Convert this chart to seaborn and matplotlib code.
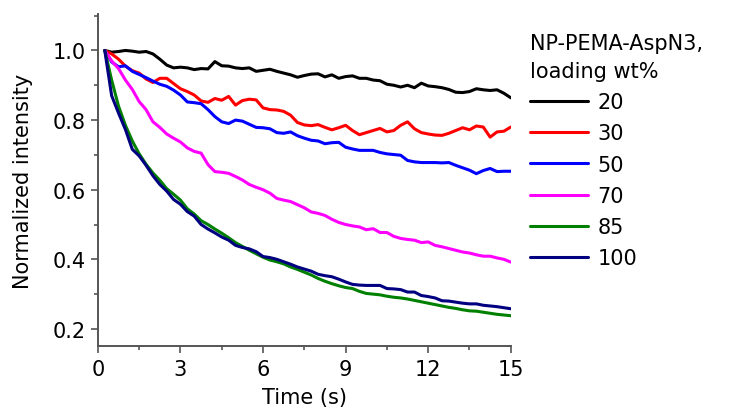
import numpy as np
import pandas as pd
import matplotlib
matplotlib.use("Agg")
import matplotlib.pyplot as plt
from matplotlib.ticker import MultipleLocator
import seaborn as sns

time_s = [0.25, 0.5, 0.75, 1.0, 1.25, 1.5, 1.75, 2.0, 2.25, 2.5, 2.75, 3.0,
          3.25, 3.5, 3.75, 4.0, 4.25, 4.5, 4.75, 5.0, 5.25, 5.5, 5.75, 6.0,
          6.25, 6.5, 6.75, 7.0, 7.25, 7.5, 7.75, 8.0, 8.25, 8.5, 8.75, 9.0,
          9.25, 9.5, 9.75, 10.0, 10.25, 10.5, 10.75, 11.0, 11.25, 11.5, 11.75, 12.0,
          12.25, 12.5, 12.75, 13.0, 13.25, 13.5, 13.75, 14.0, 14.25, 14.5, 14.75, 15.0]

load_20 = [1.0, 0.995, 0.997, 1.0, 0.998, 0.995, 0.997, 0.99, 0.975, 0.958, 0.95, 0.952,
           0.95, 0.945, 0.948, 0.947, 0.968, 0.956, 0.955, 0.95, 0.948, 0.95, 0.94, 0.943,
           0.946, 0.94, 0.935, 0.93, 0.923, 0.928, 0.932, 0.933, 0.924, 0.93, 0.92, 0.925,
           0.927, 0.92, 0.92, 0.915, 0.913, 0.903, 0.9, 0.895, 0.9, 0.893, 0.906, 0.898,
           0.896, 0.893, 0.888, 0.88, 0.879, 0.882, 0.89, 0.887, 0.885, 0.887, 0.877, 0.864]
load_30 = [1.0, 0.99, 0.975, 0.955, 0.942, 0.935, 0.918, 0.908, 0.92, 0.92, 0.905, 0.89,
           0.882, 0.872, 0.855, 0.851, 0.862, 0.857, 0.868, 0.843, 0.856, 0.86, 0.858, 0.835,
           0.83, 0.829, 0.825, 0.814, 0.793, 0.786, 0.784, 0.787, 0.779, 0.772, 0.778, 0.785,
           0.77, 0.758, 0.764, 0.77, 0.776, 0.766, 0.77, 0.785, 0.795, 0.775, 0.764, 0.76,
           0.757, 0.756, 0.762, 0.77, 0.778, 0.772, 0.783, 0.78, 0.751, 0.766, 0.768, 0.78]
load_50 = [1.0, 0.967, 0.953, 0.956, 0.94, 0.931, 0.922, 0.912, 0.903, 0.897, 0.886, 0.872,
           0.852, 0.85, 0.847, 0.83, 0.81, 0.795, 0.79, 0.8, 0.797, 0.788, 0.779, 0.778,
           0.775, 0.764, 0.762, 0.766, 0.755, 0.748, 0.742, 0.74, 0.732, 0.735, 0.736, 0.722,
           0.717, 0.713, 0.713, 0.713, 0.707, 0.703, 0.701, 0.699, 0.684, 0.68, 0.678, 0.678,
           0.678, 0.677, 0.678, 0.67, 0.663, 0.656, 0.646, 0.655, 0.661, 0.652, 0.653, 0.653]
load_70 = [1.0, 0.97, 0.948, 0.915, 0.888, 0.853, 0.83, 0.795, 0.779, 0.76, 0.748, 0.737,
           0.72, 0.71, 0.705, 0.672, 0.652, 0.65, 0.647, 0.638, 0.628, 0.615, 0.607, 0.6,
           0.59, 0.575, 0.57, 0.566, 0.557, 0.548, 0.536, 0.532, 0.526, 0.515, 0.506, 0.5,
           0.496, 0.493, 0.485, 0.488, 0.477, 0.477, 0.466, 0.46, 0.457, 0.455, 0.448, 0.45,
           0.44, 0.436, 0.431, 0.426, 0.421, 0.418, 0.413, 0.409, 0.409, 0.404, 0.4, 0.392]
load_85 = [1.0, 0.915, 0.84, 0.785, 0.74, 0.703, 0.673, 0.648, 0.627, 0.603, 0.587, 0.57,
           0.545, 0.53, 0.511, 0.5, 0.487, 0.475, 0.462, 0.448, 0.437, 0.426, 0.416, 0.406,
           0.398, 0.393, 0.387, 0.378, 0.371, 0.363, 0.355, 0.345, 0.337, 0.33, 0.324, 0.319,
           0.316, 0.308, 0.302, 0.3, 0.298, 0.294, 0.291, 0.289, 0.286, 0.282, 0.278, 0.274,
           0.27, 0.266, 0.262, 0.259, 0.255, 0.252, 0.251, 0.248, 0.245, 0.242, 0.24, 0.238]
load_100 = [1.0, 0.87, 0.82, 0.773, 0.716, 0.697, 0.67, 0.64, 0.615, 0.596, 0.572, 0.558,
            0.537, 0.524, 0.5, 0.487, 0.476, 0.464, 0.455, 0.44, 0.434, 0.43, 0.422, 0.408,
            0.405, 0.4, 0.393, 0.386, 0.378, 0.372, 0.366, 0.357, 0.353, 0.35, 0.343, 0.335,
            0.328, 0.326, 0.325, 0.325, 0.325, 0.316, 0.315, 0.313, 0.306, 0.306, 0.296, 0.293,
            0.289, 0.281, 0.28, 0.277, 0.274, 0.272, 0.272, 0.268, 0.266, 0.264, 0.261, 0.258]

labels = ["20", "30", "50", "70", "85", "100"]
series = [load_20, load_30, load_50, load_70, load_85, load_100]
colors = ["#000000", "#ff0000", "#0000ff", "#ff00ff", "#008000", "#000080"]

rows = []
for lab, vals in zip(labels, series):
    for t, v in zip(time_s, vals):
        rows.append({"Time": t, "Intensity": v, "loading": lab})
df = pd.DataFrame(rows)

sns.set_style("ticks")
plt.rcParams["font.family"] = ["DejaVu Sans"]
plt.rcParams["text.color"] = "black"
plt.rcParams["axes.labelcolor"] = "black"

fig = plt.figure(figsize=(7.36, 4.14), dpi=100)
ax = fig.add_axes([0.133, 0.161, 0.561, 0.803])

sns.lineplot(data=df, x="Time", y="Intensity", hue="loading", hue_order=labels,
             palette=dict(zip(labels, colors)), linewidth=2.2, ax=ax, legend=False)

ax.set_xlim(0, 15)
ax.set_ylim(0.15, 1.105)
ax.xaxis.set_major_locator(MultipleLocator(3))
ax.xaxis.set_minor_locator(MultipleLocator(1.5))
ax.yaxis.set_major_locator(MultipleLocator(0.2))
ax.yaxis.set_minor_locator(MultipleLocator(0.1))
ax.tick_params(which="major", direction="out", length=5, width=1.2, color="#555555",
               labelsize=15, labelcolor="black", pad=4)
ax.tick_params(which="minor", direction="out", length=3, width=1.2, color="#555555")
ax.set_xlabel("Time (s)", fontsize=15, labelpad=6)
ax.set_ylabel("Normalized intensity", fontsize=15, labelpad=14)

sns.despine(ax=ax)
for side in ["left", "bottom"]:
    ax.spines[side].set_color("#555555")
    ax.spines[side].set_linewidth(1.4)

handles = [plt.Line2D([], [], color=c, linewidth=2.2) for c in colors]
leg = fig.legend(handles, labels, title="NP-PEMA-AspN3,\nloading wt%",
                 loc="upper left", bbox_to_anchor=(0.72, 0.918), frameon=False,
                 fontsize=15, title_fontsize=15, handlelength=2.8, handletextpad=0.45,
                 labelspacing=0.54, alignment="left", borderaxespad=0, borderpad=0)
leg.get_title().set_linespacing(1.5)
leg.get_title().set_color("black")

fig.savefig("out.png", dpi=100)
